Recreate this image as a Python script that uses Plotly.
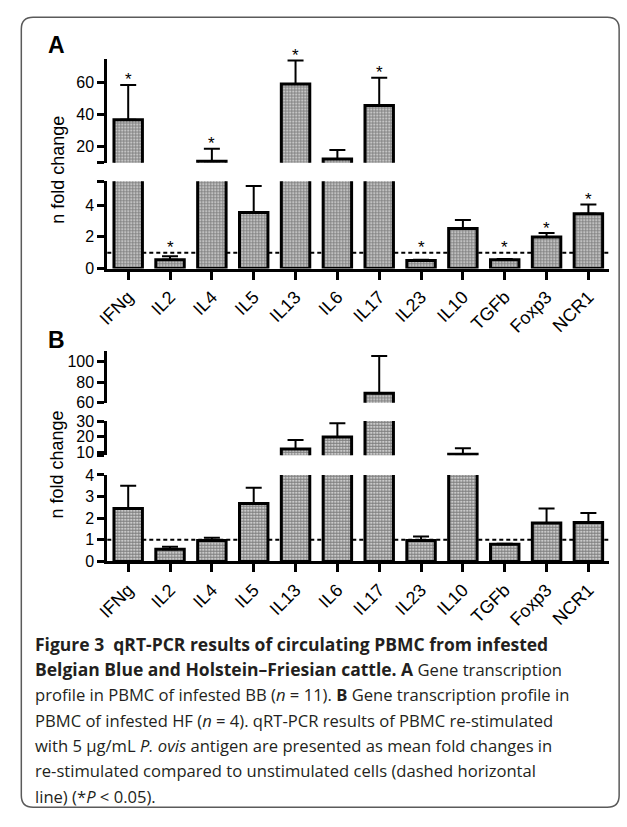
import plotly.graph_objects as go

W, H = 627, 827

genes = ["IFNg", "IL2", "IL4", "IL5", "IL13", "IL6", "IL17", "IL23", "IL10", "TGFb", "Foxp3", "NCR1"]

# Panel A (BB, n = 11): mean fold change and upper error (SEM)
a_mean = [36.8, 0.55, 10.9, 3.54, 59.2, 12.3, 45.7, 0.50, 2.53, 0.55, 1.99, 3.46]
a_sem = [21.8, 0.22, 7.9, 1.66, 14.6, 5.7, 17.3, 0.06, 0.53, 0.05, 0.25, 0.58]
a_sig = [1, 1, 1, 0, 1, 0, 1, 1, 0, 1, 1, 1]

# Panel B (HF, n = 4)
b_mean = [2.45, 0.56, 0.97, 2.68, 12.1, 19.7, 69.3, 0.97, 8.7, 0.79, 1.77, 1.80]
b_sem = [1.05, 0.12, 0.12, 0.72, 5.7, 8.8, 36.2, 0.18, 3.9, 0.02, 0.68, 0.44]
b_sig = [0, 0, 0, 0, 0, 0, 0, 0, 0, 0, 0, 0]

baseline = 1  # unstimulated reference (dashed line)

# broken-axis segments: (range, tickvals, ticktext)
a_segments = [
    ([0, 5.5], [0, 2, 4, 5.5], ["0", "2", "4", ""]),
    ([10, 75], [10, 20, 40, 60], ["", "20", "40", "60"]),
]
b_segments = [
    ([0, 4], [0, 1, 2, 3, 4], ["0", "1", "2", "3", "4"]),
    ([8, 30], [8, 10, 20, 30], ["", "10", "20", "30"]),
    ([60, 110], [60, 80, 100], ["60", "80", "100"]),
]

BS = '<b><span style="font-size:17.5px">'
BE = '</span></b>'
caption_lines = [
    BS + "Figure 3&nbsp; qRT-PCR results of circulating PBMC from infested" + BE,
    BS + "Belgian Blue and Holstein–Friesian cattle. A" + BE + " Gene transcription",
    "profile in PBMC of infested BB (<i>n</i> = 11). <b>B</b> Gene transcription profile in",
    "PBMC of infested HF (<i>n</i> = 4). qRT-PCR results of PBMC re-stimulated",
    "with 5 µg/mL <i>P. ovis</i> antigen are presented as mean fold changes in",
    "re-stimulated compared to unstimulated cells (dashed horizontal",
    "line) (*<i>P</i> &lt; 0.05).",
]


def fx(px):
    return px / W


def fy(py):
    return 1 - py / H


FONT = "Liberation Sans, Arial, sans-serif"
fig = go.Figure()

panels = [
    dict(xaxis="x", ynames=["y", "y2"], segs=a_segments, mean=a_mean, sem=a_sem, sig=a_sig,
         doms=[(177, 266), (51.7, 158)]),
    dict(xaxis="x2", ynames=["y3", "y4", "y5"], segs=b_segments, mean=b_mean, sem=b_sem, sig=b_sig,
         doms=[(476.7, 565), (421.7, 456.7), (350.7, 403)]),
]

layout_axes = {}
annotations = []
x_dom = [fx(98), fx(609)]

for p in panels:
    xa = p["xaxis"]
    nseg = len(p["segs"])
    for k, (yn, (rng, tv, tt), (ptop, pbot)) in enumerate(zip(p["ynames"], p["segs"], p["doms"])):
        lo, hi = rng
        fig.add_trace(go.Bar(
            x=genes, y=p["mean"], xaxis=xa, yaxis=yn, width=0.68,
            marker=dict(color="white", line=dict(color="black", width=3),
                        pattern=dict(shape=".", fgcolor="black", bgcolor="white", size=3, solidity=0.72)),
            showlegend=False, hoverinfo="skip",
        ))
        first = (k == 0)
        last = (k == nseg - 1)
        ex, ey, ee = [], [], []
        for g, m, s, sg in zip(genes, p["mean"], p["sem"], p["sig"]):
            if (m <= hi or last) and (m > lo or first):
                ex.append(g); ey.append(m); ee.append(s)
            top = max(m + s, baseline)
            if sg and (top <= hi or last) and (top > lo or first):
                annotations.append(dict(text="*", x=g, y=top, xref=xa, yref=yn, showarrow=False,
                                        xanchor="center", yanchor="middle", yshift=5,
                                        font=dict(family=FONT, size=17, color="black")))
        if ex:
            fig.add_trace(go.Scatter(
                x=ex, y=ey, xaxis=xa, yaxis=yn, mode="markers",
                marker=dict(size=1, color="rgba(0,0,0,0)"),
                error_y=dict(type="data", array=ee, arrayminus=[0] * len(ee), symmetric=False,
                             color="black", thickness=2, width=8),
                showlegend=False, hoverinfo="skip",
            ))
        key = "yaxis" if yn == "y" else "yaxis" + yn[1:]
        layout_axes[key] = dict(
            domain=[fy(pbot), fy(ptop)], range=rng, anchor=xa, tickmode="array",
            tickvals=tv, ticktext=tt, showline=True, linewidth=3, linecolor="black",
            ticks="outside", ticklen=7, tickwidth=3, tickcolor="black", showgrid=False,
            zeroline=False, tickfont=dict(family=FONT, size=16, color="black"), fixedrange=True,
        )
    fig.add_shape(type="line", xref=xa + " domain", yref=p["ynames"][0], x0=0, x1=1,
                  y0=baseline, y1=baseline,
                  line=dict(color="black", width=2, dash="4px,3px"), layer="below")
    xkey = "xaxis" if xa == "x" else "xaxis2"
    layout_axes[xkey] = dict(
        domain=x_dom, anchor=p["ynames"][0], type="category", range=[-0.5, 11.5],
        showline=True, linewidth=3, linecolor="black", ticks="outside", ticklen=8, tickwidth=3,
        tickcolor="black", tickangle=-45, showgrid=False, zeroline=False,
        tickfont=dict(family=FONT, size=18, color="black"), fixedrange=True,
    )

# panel letters
for lab, cy in (("A", 38), ("B", 339)):
    annotations.append(dict(text=f"<b>{lab}</b>", x=fx(36), y=fy(cy), xref="paper", yref="paper",
                            xanchor="left", yanchor="middle", showarrow=False,
                            font=dict(family=FONT, size=23, color="black")))
# y titles
for cy in (165, 466):
    annotations.append(dict(text="n fold change", x=fx(47), y=fy(cy), xref="paper", yref="paper",
                            xanchor="center", yanchor="middle", showarrow=False, textangle=-90,
                            font=dict(family=FONT, size=18, color="black")))
# caption
cap_y0, cap_dy = 649, 26
for i, line in enumerate(caption_lines):
    annotations.append(dict(text=line, x=fx(22), y=fy(cap_y0 + i * cap_dy), xref="paper", yref="paper",
                            xanchor="left", yanchor="middle", showarrow=False,
                            font=dict(family="Open Sans, sans-serif", size=16.6, color="#231f20")))

# rounded card border
x0, x1, y0, y1, r = 10.5, 619, 9.5, 816, 12
path = (f"M {fx(x0 + r)},{fy(y0)} L {fx(x1 - r)},{fy(y0)} Q {fx(x1)},{fy(y0)} {fx(x1)},{fy(y0 + r)} "
        f"L {fx(x1)},{fy(y1 - r)} Q {fx(x1)},{fy(y1)} {fx(x1 - r)},{fy(y1)} "
        f"L {fx(x0 + r)},{fy(y1)} Q {fx(x0)},{fy(y1)} {fx(x0)},{fy(y1 - r)} "
        f"L {fx(x0)},{fy(y0 + r)} Q {fx(x0)},{fy(y0)} {fx(x0 + r)},{fy(y0)} Z")
fig.add_shape(type="path", path=path, xref="paper", yref="paper",
              line=dict(color="#5a5a5a", width=1.5))

fig.update_layout(
    width=W, height=H, margin=dict(l=0, r=0, t=0, b=0, pad=0),
    paper_bgcolor="white", plot_bgcolor="white", showlegend=False,
    annotations=annotations, bargap=0.3, **layout_axes,
)

fig.write_html("out.html", config={"displayModeBar": False},
               post_script="document.body.style.margin='0px';document.body.style.overflow='hidden';")
